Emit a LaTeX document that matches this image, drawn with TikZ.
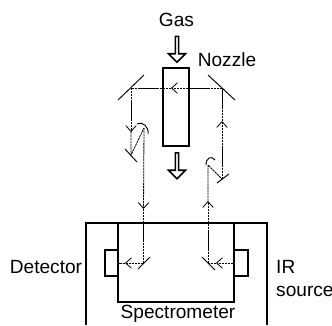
\documentclass[tikz,border=0pt]{standalone}
\usepackage{fontspec}
\setmainfont{Liberation Sans}
\usetikzlibrary{shapes.arrows, arrows.meta}
\begin{document}
\begin{tikzpicture}[
    x=0.03cm, y=-0.03cm,
    txt/.style={font=\fontsize{16.3}{18}\selectfont, inner sep=0pt},
    wall/.style={draw, line width=1.6pt, inner sep=0pt},
    mirror/.style={line width=0.8pt},
    beam/.style={line width=0.7pt, dash pattern=on 2pt off 0.6pt},
    beamtip/.style={beam, -{Straight Barb[length=5pt,width=9pt]}},
    flow/.style={single arrow, draw, line width=1.4pt, rotate=-90, inner sep=0pt, minimum width=14.5pt, single arrow head extend=3pt, single arrow head indent=0pt, minimum height=22pt, inner xsep=0pt}
]
\useasboundingbox (0,0) rectangle (332,325);

\node[txt] (gas) at (176.5,20) {Gas};
\node[txt] (nozzlelabel) at (227,60) {Nozzle};
\node[txt] (detlabel) at (46,267) {Detector};
\node[txt, anchor=west] (irlabel) at (276,267) {IR};
\node[txt, anchor=west] (srclabel) at (276,291) {source};
\node[txt] (speclabel) at (178,314) {Spectrometer};

\node[wall, minimum width=22pt, minimum height=66pt] (nozzle) at (176,107) {};
\node[flow] (gasin) at (177,48.5) {};
\node[flow] (gasout) at (177,165) {};

% spectrometer
\draw[line width=1.6pt] (86,325) -- (86,223) -- (267,223) -- (267,325);
\node[wall, minimum width=98.6pt, minimum height=67pt] (spec) at (176,262.5) {};
\node[wall, minimum width=11pt, minimum height=22pt] (detector) at (111.5,263) {};
\node[wall, minimum width=11.5pt, minimum height=22pt] (source) at (241,263) {};

% mirrors
\draw[mirror] (118,100) -- (144,75);
\draw[mirror] (208,75) -- (235,100);
\draw[mirror] (125,149) -- (137,162);
\draw[mirror] (217,183) -- (229,174);
\draw[mirror] (138,269) -- (150,257);
\draw[mirror] (202,257) -- (215,270);
\draw[mirror] (137,124) .. controls (143,121) and (149,127) .. (148,134);
\draw[mirror] (206,165) .. controls (206,158) and (211,155) .. (215,160);

\coordinate (a1) at (208,263);
\coordinate (a2) at (208,201);
\coordinate (a3) at (208,165);
\coordinate (a4) at (222,179);
\coordinate (a5) at (222,121);
\coordinate (a6) at (222,88);
\coordinate (a7) at (171,88);
\coordinate (a8) at (131,88);
\coordinate (a9) at (131,132);
\coordinate (a10) at (131,155);
\coordinate (a11) at (144,128);
\coordinate (a12) at (143.5,209);
\coordinate (a13) at (143.5,263);
\coordinate (a14) at (125,263);
\coordinate (a15) at (216,263);

% beam path
\draw[beamtip] (source.west) -- (a15);
\draw[beam] (a15) -- (a1);
\draw[beamtip] (a1) -- (a2);
\draw[beam] (a2) -- (a3) -- (a4);
\draw[beamtip] (a4) -- (a5);
\draw[beam] (a5) -- (a6);
\draw[beamtip] (a6) -- (a7);
\draw[beam] (a7) -- (a8);
\draw[beamtip] (a8) -- (a9);
\draw[beam] (a9) -- (a10) -- (a11);
\draw[beamtip] (a11) -- (a12);
\draw[beam] (a12) -- (a13);
\draw[beamtip] (a13) -- (a14);
\draw[beam] (a14) -- (detector.east);
\end{tikzpicture}
\end{document}
